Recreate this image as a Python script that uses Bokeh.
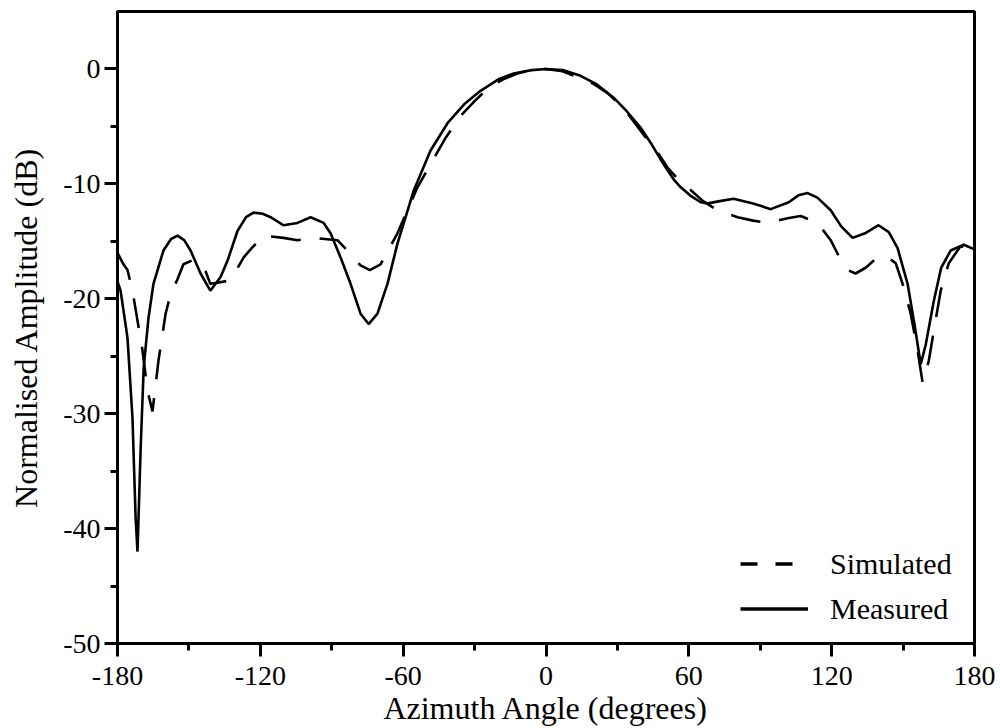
import numpy as np
from bokeh.plotting import figure
from bokeh.models import Range1d, FixedTicker, Legend, LegendItem, Title
from bokeh.embed import file_html
from bokeh.resources import INLINE

# Measured (solid)
meas_x = [-180, -178.7, -175.8, -173.7, -172.4, -171.6, -170.3, -169, -167, -164.9, -160.7,
          -157.5, -154.8, -152, -149.3, -145.1, -141, -136.7, -133.8, -129.6, -126, -122.9, -119, -115.7, -110.3,
          -104.4, -98.9, -93.4, -90.5, -86.3, -82.1, -77.9, -74.5, -70.8, -66.6, -62.4,
          -55.6, -48.5, -41.3, -34, -27.5, -20, -13.6, -6, 0, 7, 14.5, 21, 28.4, 34, 39.7,
          44.5, 49.4, 53.6, 56.6, 60.5, 65, 68, 73, 78.8, 87, 94.4, 102, 106, 109.9, 114,
          119.6, 124, 128.8, 134, 139.7, 144, 147.7, 151.9, 155, 157.4, 159.5, 162.9, 166,
          170, 175.5, 180]
meas_y = [-18.5, -19.3, -23.4, -30.4, -39, -42, -33.2, -26, -21.7, -18.7, -15.8,
          -14.8, -14.5, -14.9, -15.8, -17.8, -19.3, -18.1, -16.7, -14.1, -12.9, -12.5, -12.6, -12.9, -13.6,
          -13.4, -12.9, -13.4, -14.3, -16.4, -18.7, -21.3, -22.2, -21.3, -18.7, -15.2,
          -10.6, -7.1, -4.7, -3.0, -1.9, -0.9, -0.4, -0.1, 0, -0.1, -0.6, -1.3, -2.5, -3.7, -5.1,
          -6.6, -8.3, -9.6, -10.3, -11.0, -11.6, -11.7, -11.5, -11.3, -11.7, -12.2, -11.6, -11.0, -10.8, -11.2,
          -12.3, -13.7, -14.7, -14.3, -13.6, -14.2, -15.6, -18.7, -22.5, -25.7, -24.0, -20.2, -17.3,
          -15.8, -15.3, -15.7]

# Simulated (dashed)
sim_x = [-180, -177.5, -175.8, -173.7, -171.6, -169.5, -167.4, -165.3, -162.8, -159.8, -157.7,
         -154.8, -152.3, -148, -145, -143, -141, -138, -132.5, -127, -124.1, -118.7, -110.3,
         -104.4, -97.6, -87.6, -82.1, -77.9, -74, -69.5, -62.4, -54, -48.5, -42.2, -35.9,
         -30, -24.5, -18, -12, -6, 0, 7, 14.5, 20, 25.9, 31, 35.5, 42.7, 47, 51.1, 55.5, 60,
         66, 72.1, 80.5, 87, 93.1, 101.5, 107, 114.1, 119.6, 123, 126.7, 130, 134.3, 139.7,
         143.5, 146.9, 149.8, 153.2, 156.1, 158.2, 160.8, 162.9, 165.8, 169.2, 174.2, 178.4, 180]
sim_y = [-16.0, -17.0, -17.5, -19.3, -21.9, -24.5, -28.0, -29.8, -25.4, -21.3, -19.6,
         -18.3, -17.0, -16.6, -16.9, -17.6, -18.7, -18.6, -18.4, -16.4, -15.7, -14.5, -14.7,
         -14.9, -14.7, -14.9, -16.1, -17.1, -17.5, -17.0, -14.3, -10.3, -8.3, -6.0, -4.1,
         -2.8, -1.7, -0.9, -0.4, -0.1, 0, -0.2, -0.8, -1.3, -2.1, -3.1, -4.2, -6.2, -7.3, -8.6, -9.6, -10.4,
         -11.5, -12.3, -12.9, -13.2, -13.4, -13.0, -12.8, -13.4, -14.9, -16.3, -17.5, -17.8, -17.3, -16.3,
         -16.4, -16.9, -18.7, -21.3, -24.5, -27.3, -25.4, -22.8, -19.3, -16.9, -15.4, -15.8, -16.1]

x_ticks = [-180, -120, -60, 0, 60, 120, 180]
x_minor = [-150, -90, -30, 30, 90, 150]
y_ticks = [-50, -40, -30, -20, -10, 0]
y_minor = [-45, -35, -25, -15, -5]
x_title = "Azimuth Angle (degrees)"
y_title = "Normalised Amplitude (dB)"

FONT = "Liberation Serif"

p = figure(width=1000, height=728, output_backend="svg", toolbar_location=None,
           x_range=Range1d(-180, 180), y_range=Range1d(-50, 5),
           min_border_left=117, min_border_right=26, min_border_top=11, min_border_bottom=85)
p.background_fill_color = "white"
p.border_fill_color = "white"
p.grid.visible = False
p.outline_line_color = "black"
p.outline_line_width = 3

r_sim = p.line(sim_x, sim_y, line_color="black", line_width=2.6, line_dash="30 19")
r_meas = p.line(meas_x, meas_y, line_color="black", line_width=2.6)

# legend-only glyphs (never visible in the frame)
leg_sim = p.line([np.nan], [np.nan], line_color="black", line_width=3.5, line_dash="17 18")
leg_meas = p.line([np.nan], [np.nan], line_color="black", line_width=3.5)

legend = Legend(items=[LegendItem(label="Simulated", renderers=[leg_sim]),
                       LegendItem(label="Measured", renderers=[leg_meas])],
                location=(623, 12), padding=0, margin=0, spacing=0,
                glyph_width=68, glyph_height=45, label_height=45, label_standoff=22,
                border_line_color=None, background_fill_alpha=0,
                label_text_font=FONT, label_text_font_size="30px", label_text_color="black")
p.add_layout(legend)

for ax in (p.xaxis[0], p.yaxis[0]):
    ax.axis_line_width = 3
    ax.major_tick_line_width = 3
    ax.minor_tick_line_width = 3
    ax.major_tick_in = 0
    ax.minor_tick_in = 0
    ax.major_tick_out = 13
    ax.minor_tick_out = 7
    ax.major_label_text_font = FONT
    ax.major_label_text_font_size = "28px"
    ax.major_label_text_color = "black"
    ax.axis_label_text_font = FONT
    ax.axis_label_text_font_size = "32px"
    ax.axis_label_text_font_style = "normal"
    ax.axis_label_text_color = "black"

p.xaxis.ticker = FixedTicker(ticks=x_ticks, minor_ticks=x_minor)
p.yaxis.ticker = FixedTicker(ticks=y_ticks, minor_ticks=y_minor)
p.xaxis.major_label_overrides = {t: str(t) for t in x_ticks}
p.yaxis.major_label_overrides = {t: str(t) for t in y_ticks}
p.yaxis.axis_label = y_title
p.xaxis.major_label_standoff = 10
p.yaxis.major_label_standoff = 4
p.yaxis.axis_label_standoff = 16

p.add_layout(Title(text=x_title, align="center", standoff=0, offset=0,
                   text_font=FONT, text_font_size="32px", text_font_style="normal",
                   text_color="black"), "below")

open("out.html", "w").write(file_html(p, INLINE))
